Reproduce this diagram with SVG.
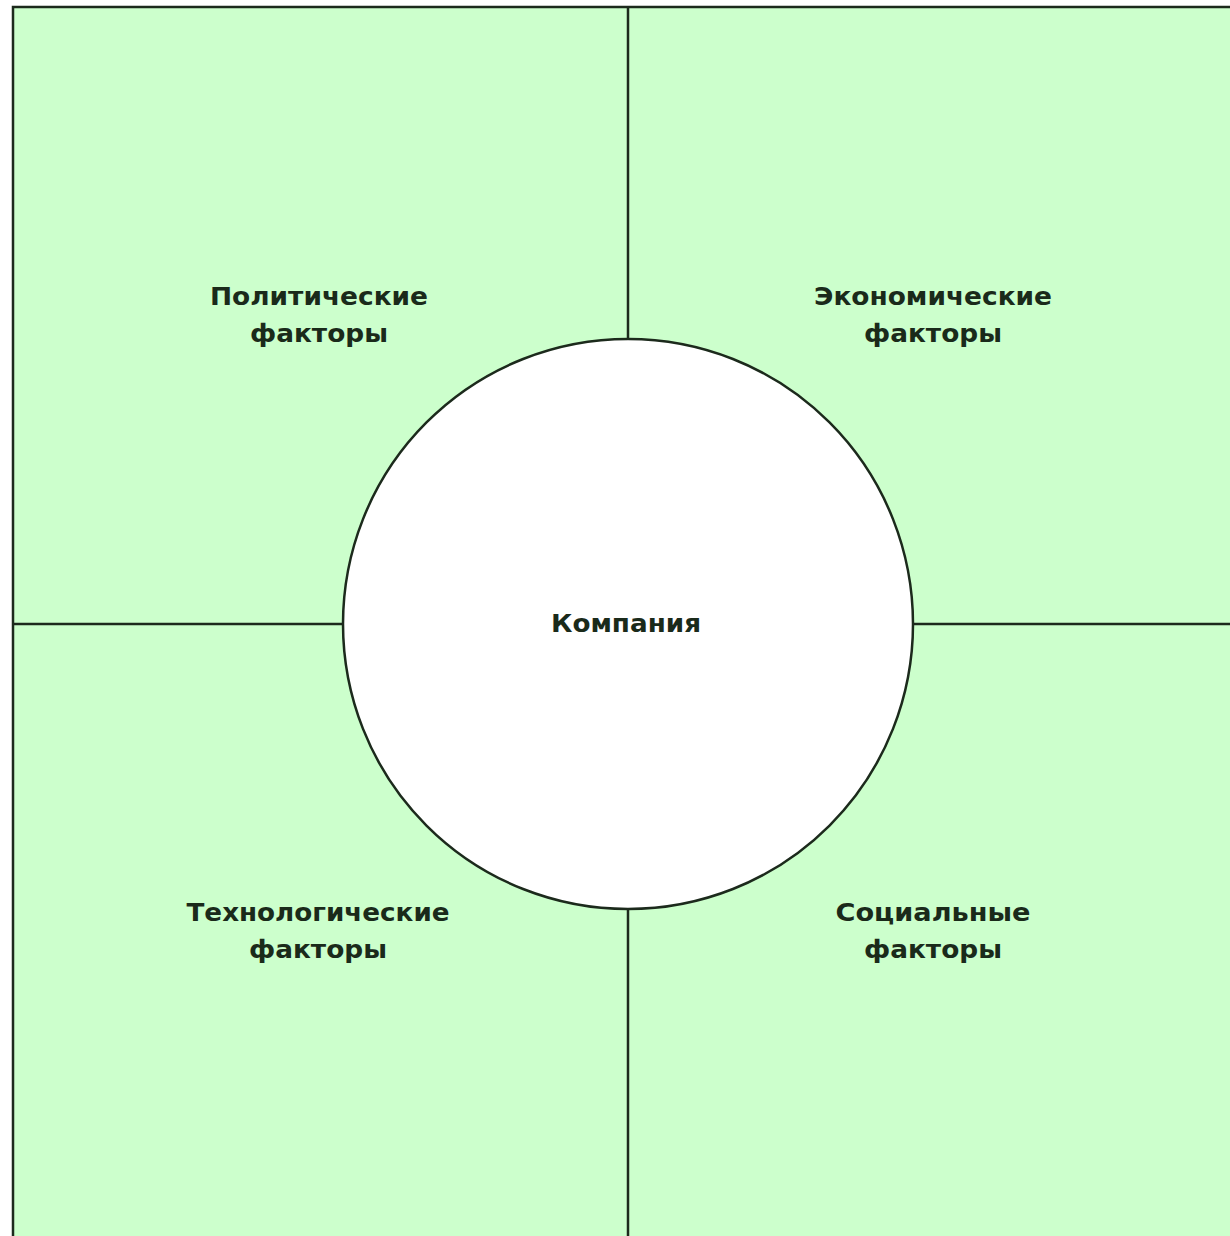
<svg xmlns="http://www.w3.org/2000/svg" width="1230" height="1236" viewBox="0 0 1230 1236">
<style>
.q{fill:#ccffcc;stroke:none}
.ln{stroke:#1c2a1c;stroke-width:2.5;fill:none}
.c{stroke:#1c2a1c;stroke-width:2.5;fill:#ffffff}
.t{font-family:"DejaVu Sans","Liberation Sans",sans-serif;font-weight:bold;font-size:24px;fill:#1a2a1a;text-anchor:middle}
</style>
<rect x="0" y="0" width="1230" height="1236" fill="#ffffff"/>
<g id="quadrants">
<rect class="q" x="13" y="7" width="1230" height="1240"/>
</g>
<g id="connectors">
<path class="ln" d="M13,1240 V7 H1232"/>
<line class="ln" x1="628" y1="7" x2="628" y2="340"/>
<line class="ln" x1="628" y1="909" x2="628" y2="1240"/>
<line class="ln" x1="13" y1="624" x2="343" y2="624"/>
<line class="ln" x1="913" y1="624" x2="1232" y2="624"/>
</g>
<g id="political"><text class="t" x="319" y="305" textLength="218" lengthAdjust="spacingAndGlyphs">Политические</text><text class="t" x="319" y="342" textLength="138" lengthAdjust="spacingAndGlyphs">факторы</text></g>
<g id="economic"><text class="t" x="933" y="305" textLength="238" lengthAdjust="spacingAndGlyphs">Экономические</text><text class="t" x="933" y="342" textLength="138" lengthAdjust="spacingAndGlyphs">факторы</text></g>
<g id="technological"><text class="t" x="318" y="921" textLength="263" lengthAdjust="spacingAndGlyphs">Технологические</text><text class="t" x="318" y="958" textLength="138" lengthAdjust="spacingAndGlyphs">факторы</text></g>
<g id="social"><text class="t" x="933" y="921" textLength="195" lengthAdjust="spacingAndGlyphs">Социальные</text><text class="t" x="933" y="958" textLength="138" lengthAdjust="spacingAndGlyphs">факторы</text></g>
<g id="company"><circle class="c" cx="628" cy="624" r="285"/><text class="t" x="626" y="632" textLength="150" lengthAdjust="spacingAndGlyphs">Компания</text></g>
</svg>
